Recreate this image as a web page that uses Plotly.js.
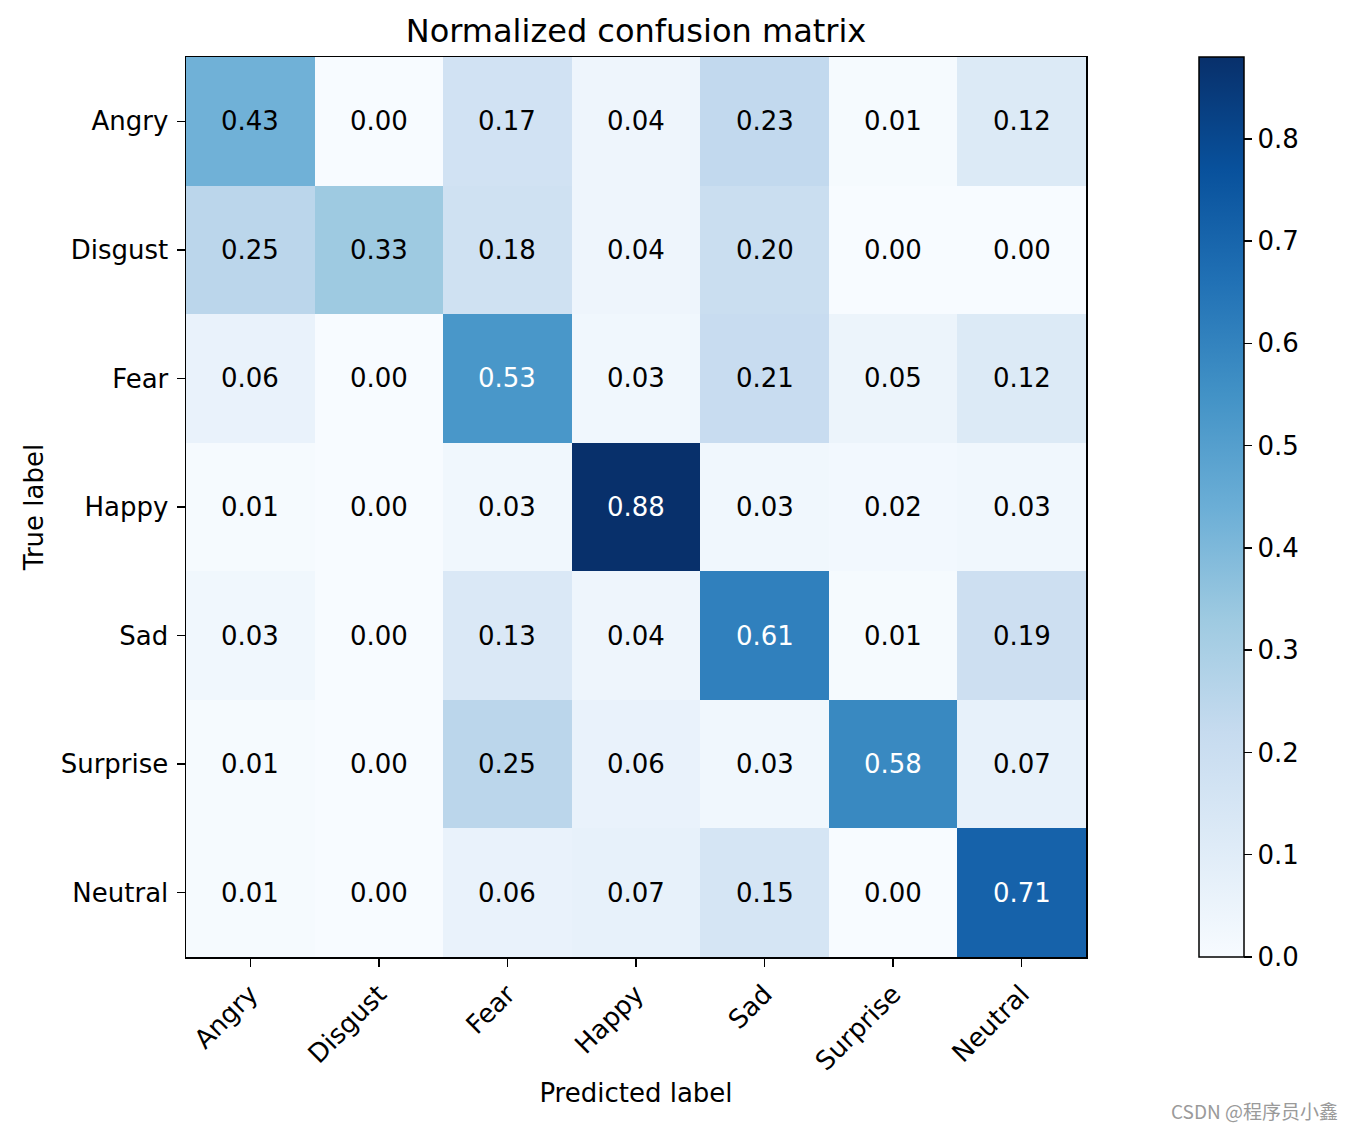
<!DOCTYPE html>
<html>
<head>
<meta charset="utf-8">
<script src="https://cdn.plot.ly/plotly-3.0.1.min.js"></script>
<style>html,body{margin:0;padding:0;background:#fff;}#chart{width:1356px;height:1128px;}</style>
</head>
<body>
<div id="chart"></div>
<script>
const classes = ["Angry","Disgust","Fear","Happy","Sad","Surprise","Neutral"];
const rowAngry    = [0.43,0.00,0.17,0.04,0.23,0.01,0.12];
const rowDisgust  = [0.25,0.33,0.18,0.04,0.20,0.00,0.00];
const rowFear     = [0.06,0.00,0.53,0.03,0.21,0.05,0.12];
const rowHappy    = [0.01,0.00,0.03,0.88,0.03,0.02,0.03];
const rowSad      = [0.03,0.00,0.13,0.04,0.61,0.01,0.19];
const rowSurprise = [0.01,0.00,0.25,0.06,0.03,0.58,0.07];
const rowNeutral  = [0.01,0.00,0.06,0.07,0.15,0.00,0.71];
const colorbarTicks = [0,0.1,0.2,0.3,0.4,0.5,0.6,0.7,0.8];

const z = [rowAngry,rowDisgust,rowFear,rowHappy,rowSad,rowSurprise,rowNeutral];
const zmax = Math.max(...z.flat());
const blues = [
  [0.0,'#f7fbff'],[0.125,'#deebf7'],[0.25,'#c6dbef'],[0.375,'#9ecae1'],
  [0.5,'#6baed6'],[0.625,'#4292c6'],[0.75,'#2171b5'],[0.875,'#08519c'],[1.0,'#08306b']
];
const FONT = 'DejaVu Sans, sans-serif';
const FS = 26;
const annotations = [];
z.forEach((row,i)=>row.forEach((v,j)=>{
  annotations.push({x:classes[j], y:classes[i], xref:'x', yref:'y', text:v.toFixed(2),
    showarrow:false, font:{family:FONT,size:FS,color: v > zmax/2 ? '#ffffff' : '#000000'}});
}));
annotations.push({xref:'paper',yref:'paper',x:1.282,y:-0.17,xanchor:'right',yanchor:'middle',
  text:'CSDN @程序员小鑫',showarrow:false,font:{family:'Noto Sans CJK SC, sans-serif',size:19,color:'#9a9a9a'}});

const trace = {
  type:'heatmap', z:z, x:classes, y:classes, colorscale:blues, zmin:0, zmax:zmax,
  xgap:0, ygap:0, hoverinfo:'skip',
  colorbar:{x:1.1256, xanchor:'left', xref:'paper', y:0.5, yanchor:'middle', len:1, lenmode:'fraction',
    thickness:45, thicknessmode:'pixels', outlinewidth:1.5, outlinecolor:'#000',
    tickvals:colorbarTicks, tickformat:'.1f', ticks:'outside', ticklen:8, tickwidth:1.5, tickcolor:'#000',
    ticklabelstandoff:3,
    tickfont:{family:FONT,size:FS,color:'#000'}, xpad:0, ypad:0}
};
const layout = {
  width:1356, height:1128,
  margin:{l:186, r:270, t:57, b:171},
  paper_bgcolor:'#fff', plot_bgcolor:'#fff',
  font:{family:FONT,color:'#000'},
  title:{text:'Normalized confusion matrix', font:{family:FONT,size:32,color:'#000'}, x:0.5, xanchor:'center', y:1-31/1128, yanchor:'middle', xref:'paper'},
  xaxis:{type:'category', tickangle:-45, ticks:'outside', ticklen:8, tickwidth:1.5, tickcolor:'#000',
    showline:true, linecolor:'#000', linewidth:1.5, mirror:true, showgrid:false, zeroline:false,
    ticklabelstandoff:2,
    tickfont:{family:FONT,size:FS,color:'#000'},
    title:{text:'Predicted label', font:{family:FONT,size:FS,color:'#000'}, standoff:8}},
  yaxis:{type:'category', autorange:'reversed', ticks:'outside', ticklen:8, tickwidth:1.5, tickcolor:'#000',
    showline:true, linecolor:'#000', linewidth:1.5, mirror:true, showgrid:false, zeroline:false,
    ticklabelstandoff:3,
    tickfont:{family:FONT,size:FS,color:'#000'},
    title:{text:'True label', font:{family:FONT,size:FS,color:'#000'}, standoff:9}},
  annotations:annotations
};
Plotly.newPlot('chart',[trace],layout,{displayModeBar:false, staticPlot:true});
</script>
</body>
</html>
